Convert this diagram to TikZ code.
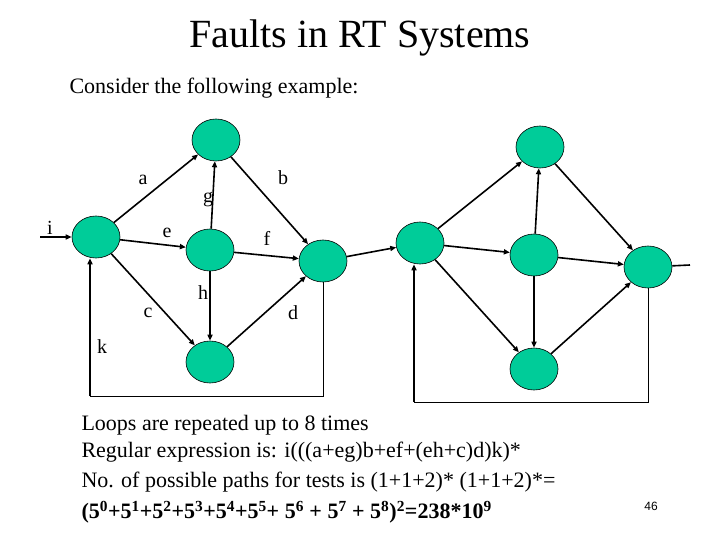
\documentclass[tikz,border=0pt]{standalone}
\usepackage{fontspec}
\setmainfont{Liberation Serif}
\newfontfamily\sansf{Liberation Sans}
\usetikzlibrary{arrows.meta,shapes.geometric}
\definecolor{ng}{RGB}{0,204,153}
\begin{document}
\begin{tikzpicture}[x=1pt,y=-1pt,
  nd/.style={ellipse,draw=black,fill=ng,minimum width=48pt,minimum height=42pt,inner sep=0pt,line width=0.6pt},
  ed/.style={line width=1.6pt,-{Triangle[length=6pt,width=5pt]}},
  lp/.style={line width=0.9pt},
  lb/.style={font=\fontsize{20}{20}\selectfont}]
\useasboundingbox (0,0) rectangle (720,540);
\node[font=\fontsize{40}{40}\selectfont] (title) at (360,38) {Faults in RT Systems};
\node[anchor=west,font=\fontsize{22}{22}\selectfont] (cons) at (66,88) {Consider the following example:};
% graph 1
\node[nd] (L1) at (96,237) {};
\node[nd] (T1) at (216,140) {};
\node[nd] (M1) at (210,250) {};
\node[nd] (B1) at (210,362) {};
\node[nd] (R1) at (323,261) {};
% graph 2
\node[nd] (L2) at (420,243) {};
\node[nd] (T2) at (540,147) {};
\node[nd] (M2) at (534,255) {};
\node[nd] (B2) at (534,369) {};
\node[nd] (R2) at (648,267) {};
\coordinate (in) at (40,237);
\coordinate (out) at (690,265);
\coordinate (c1b) at (90,396);
\coordinate (c2b) at (414,402);
\draw[ed] (in) -- (L1);
\foreach \g in {1,2}{
  \draw[ed] (L\g) -- (T\g);
  \draw[ed] (L\g) -- (M\g);
  \draw[ed] (L\g) -- (B\g);
  \draw[ed] (T\g) -- (R\g);
  \draw[ed] (M\g) -- (T\g);
  \draw[ed] (M\g) -- (R\g);
  \draw[ed] (M\g) -- (B\g);
  \draw[ed] (B\g) -- (R\g);
}
\draw[ed] (R1) -- (L2);
\draw[line width=1.6pt] (R2) -- (out);
\draw[lp] (R1.south) |- (c1b);
\draw[ed] (c1b) -- (c1b |- L1.south);
\draw[lp] (R2.south) |- (c2b);
\draw[ed] (c2b) -- (c2b |- L2.south);
% labels
\node[lb] (la) at (143,180) {a};
\node[lb] (lb2) at (283,178) {b};
\node[lb] (lg) at (208,200) {g};
\node[lb] (li) at (50,228) {i};
\node[lb] (le) at (167,233) {e};
\node[lb] (lf) at (267,238) {f};
\node[lb] (lh) at (203,293) {h};
\node[lb] (lc) at (148,313) {c};
\node[lb] (ld) at (293,313) {d};
\node[lb] (lk) at (102,347) {k};
% text
\node[anchor=west,font=\fontsize{22}{22}\selectfont] (t1) at (78,425) {Loops are repeated up to 8 times};
\node[anchor=west,font=\fontsize{22}{22}\selectfont] (t2) at (78,452) {Regular expression is: i(((a+eg)b+ef+(eh+c)d)k)*};
\node[anchor=west,font=\fontsize{22}{22}\selectfont] (t3) at (78,482) {No. of possible paths for tests is (1+1+2)* (1+1+2)*=};
\node[anchor=west,font=\fontsize{22}{22}\selectfont\bfseries] (t4) at (78,512) {(5\textsuperscript{0}+5\textsuperscript{1}+5\textsuperscript{2}+5\textsuperscript{3}+5\textsuperscript{4}+5\textsuperscript{5}+ 5\textsuperscript{6} + 5\textsuperscript{7} + 5\textsuperscript{8})\textsuperscript{2}=238*10\textsuperscript{9}};
\node[font=\sansf\fontsize{12}{12}\selectfont] (pg) at (651,506) {46};
\end{tikzpicture}
\end{document}
